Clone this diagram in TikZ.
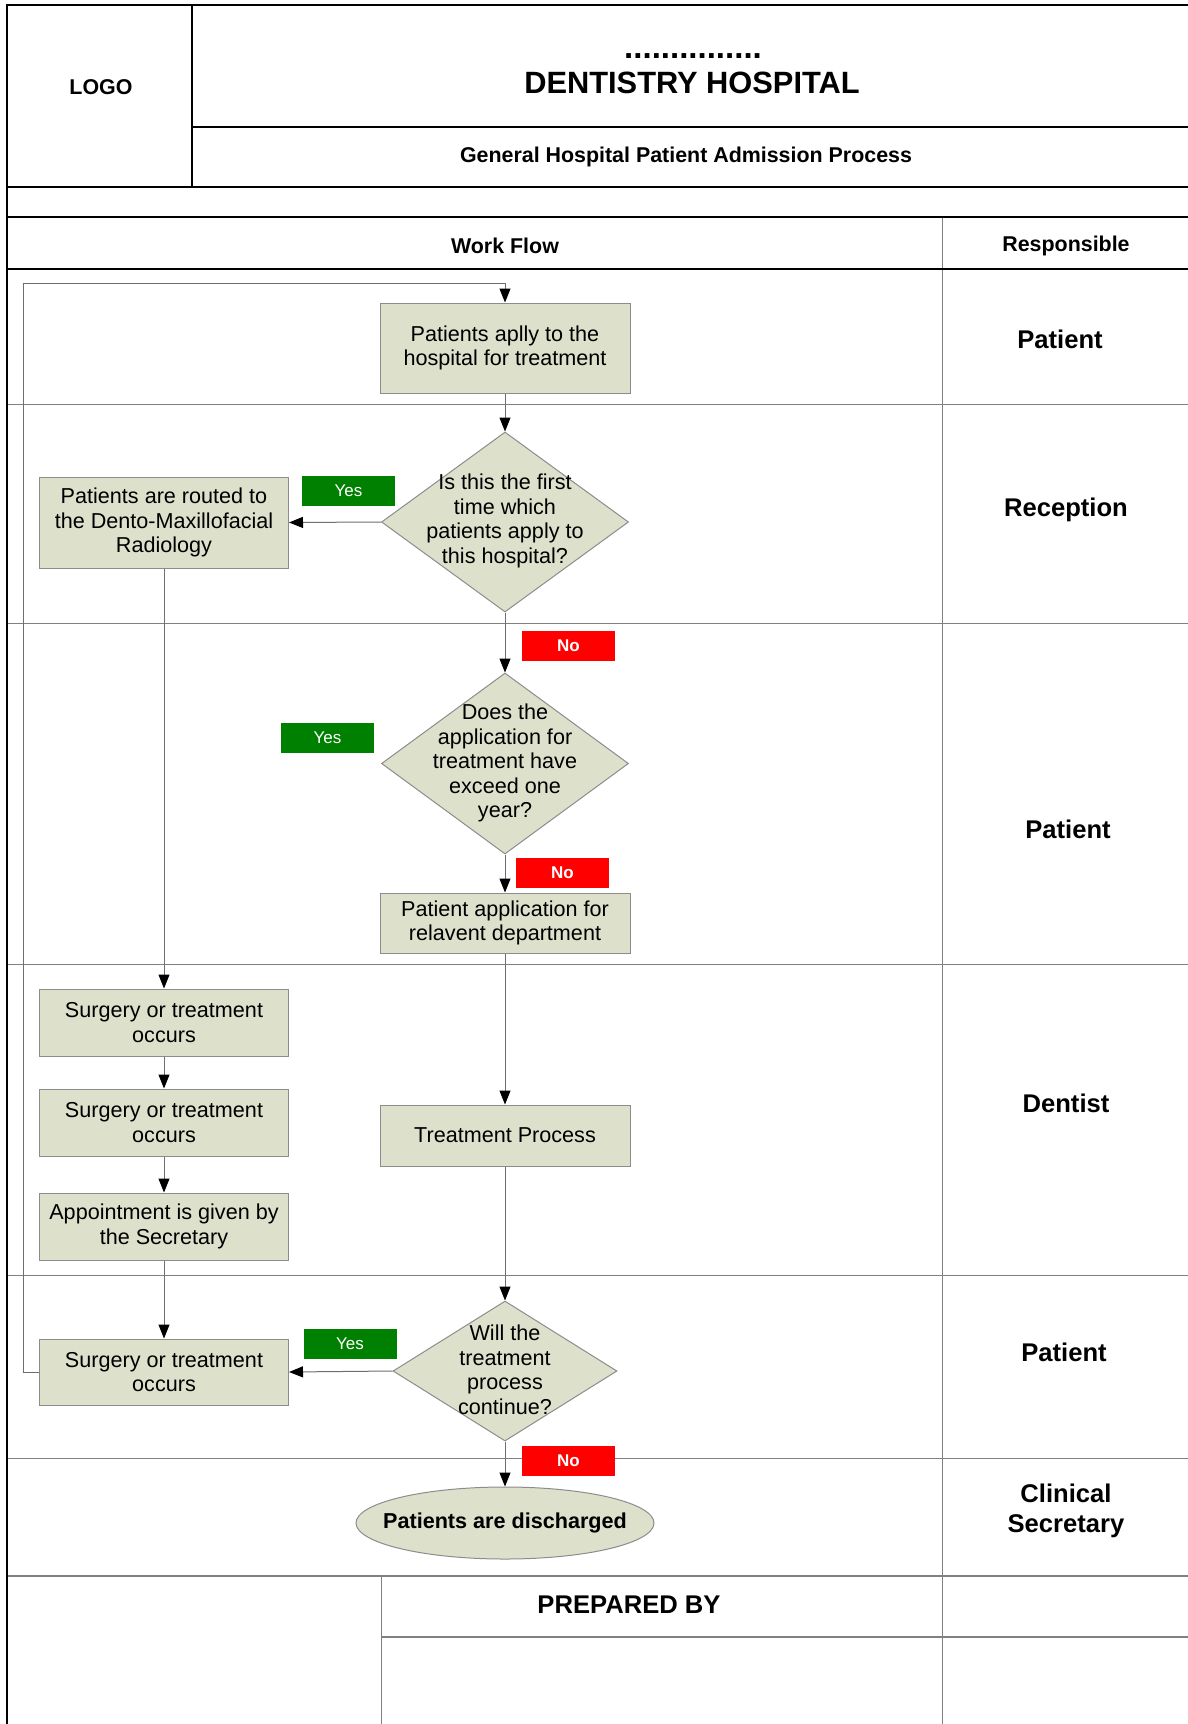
\documentclass[tikz,border=0pt]{standalone}
\usepackage{fontspec}
\setmainfont{Liberation Sans}
\usetikzlibrary{shapes.geometric,arrows.meta}
\definecolor{boxfill}{RGB}{221,225,204}
\definecolor{boxline}{RGB}{140,140,140}
\definecolor{lanegray}{RGB}{128,128,128}
\definecolor{yesgreen}{RGB}{0,128,0}
\definecolor{nored}{RGB}{255,0,0}
\definecolor{connc}{RGB}{110,110,110}
\tikzset{
  thickrule/.style={line width=2.6pt,black},
  thinrule/.style={line width=1pt,lanegray},
  procbox/.style={rectangle,draw=boxline,fill=boxfill,line width=1pt,align=center,
    inner sep=0pt,font=\fontsize{21.6}{24.5}\selectfont},
  decision/.style={diamond,draw=boxline,fill=boxfill,line width=1pt,inner sep=0pt},
  dtext/.style={align=center,inner sep=0pt,font=\fontsize{21.6}{24.5}\selectfont},
  yeslabel/.style={rectangle,fill=yesgreen,text=white,minimum width=93pt,minimum height=30pt,
    inner sep=0pt,font=\fontsize{17}{20}\selectfont},
  nolabel/.style={rectangle,fill=nored,text=white,minimum width=93pt,minimum height=30pt,
    inner sep=0pt,font=\fontsize{17}{20}\selectfont\bfseries},
  conn/.style={draw=connc,line width=1pt,-{Triangle[length=14pt,width=11pt,color=black]}},
  headtext/.style={inner sep=0pt,font=\fontsize{21.4}{25}\selectfont\bfseries},
  resptext/.style={inner sep=0pt,align=center,font=\fontsize{25.6}{30}\selectfont\bfseries},
}
\begin{document}
\begin{tikzpicture}[x=1pt,y=-1pt]
\useasboundingbox[fill=white] (0,0) rectangle (1188,1724);

% ---- thin lane lines ----
\foreach \yy in {404,623,964,1275,1458}{
  \draw[thinrule] (7,\yy) -- (1188,\yy);
}
\draw[thinrule] (942,217) -- (942,1724);
\draw[thinrule,line width=1.4pt] (7,1576) -- (1188,1576);
\draw[thinrule] (381,1576) -- (381,1724);
\draw[thinrule,line width=1.4pt] (381,1637) -- (1188,1637);

% ---- thick header rules ----
\draw[thickrule] (7,5) -- (1188,5);
\draw[thickrule] (7,4) -- (7,1724);
\draw[thickrule] (192,5) -- (192,187);
\draw[thickrule] (192,127) -- (1188,127);
\draw[thickrule] (7,187) -- (1188,187);
\draw[thickrule] (7,217) -- (1188,217);
\draw[thickrule] (7,269) -- (1188,269);

% ---- header texts ----
\node[headtext] (logo) at (101,87) {LOGO};
\node[inner sep=0pt,font=\fontsize{33}{33}\selectfont\bfseries,anchor=base] (dots) at (693,58) {...............};
\node[inner sep=0pt,font=\fontsize{30.8}{34}\selectfont\bfseries] (title) at (692,83) {DENTISTRY HOSPITAL};
\node[headtext] (subtitle) at (686,157) {General Hospital Patient Admission Process};
\node[headtext] (wf) at (505,246) {Work Flow};
\node[headtext] (resp) at (1066,246) {Responsible};

% ---- responsible column ----
\node[resptext] (r1) at (1060,339) {Patient};
\node[resptext] (r2) at (1066,510) {Reception};
\node[resptext] (r3) at (1068,829) {Patient};
\node[resptext] (r4) at (1066,1103) {Dentist};
\node[resptext] (r5) at (1064,1352) {Patient};
\node[resptext] (r6) at (1066,1511) {Clinical\\Secretary};
\node[inner sep=0pt,font=\fontsize{25.6}{30}\selectfont\bfseries] (prep) at (629,1605) {PREPARED BY};

% ---- flow nodes ----
\node[procbox,minimum width=250pt,minimum height=90pt] (b1) at (505,348) {Patients aplly to the\\hospital for treatment};
\node[decision,minimum width=247pt,minimum height=180pt] (d1) at (505,522) {};
\node[dtext] (d1t) at (505,521) {Is this the first\\time which\\patients apply to\\this hospital?};
\node[procbox,minimum width=249pt,minimum height=91pt] (b2) at (164,522.5) {Patients are routed to\\the Dento-Maxillofacial\\Radiology};
\node[yeslabel] (y1) at (348.5,491) {Yes};
\node[nolabel] (n1) at (568.5,646) {No};
\node[decision,minimum width=247pt,minimum height=181pt] (d2) at (505,763.5) {};
\node[dtext] (d2t) at (505,763) {Does the\\application for\\treatment have\\exceed one\\year?};
\node[yeslabel] (y2) at (327.5,738) {Yes};
\node[nolabel] (n2) at (562.5,873) {No};
\node[procbox,minimum width=250pt,minimum height=60pt] (b3) at (505,923) {Patient application for\\relavent department};
\node[procbox,minimum width=249pt,minimum height=67pt] (b4) at (164,1022.5) {Surgery or treatment\\occurs};
\node[procbox,minimum width=249pt,minimum height=67pt] (b5) at (164,1122.5) {Surgery or treatment\\occurs};
\node[procbox,minimum width=249pt,minimum height=67pt] (b6) at (164,1226.5) {Appointment is given by\\the Secretary};
\node[procbox,minimum width=250pt,minimum height=61pt] (tp) at (505,1135.5) {Treatment Process};
\node[decision,minimum width=224pt,minimum height=140pt] (d3) at (505,1371) {};
\node[dtext] (d3t) at (505,1370) {Will the\\treatment\\process\\continue?};
\node[procbox,minimum width=249pt,minimum height=66pt] (b7) at (164,1372) {Surgery or treatment\\occurs};
\node[yeslabel] (y3) at (350,1344) {Yes};
\node[nolabel] (n3) at (568.5,1461) {No};
\node[ellipse,draw=boxline,fill=boxfill,line width=1pt,minimum width=298pt,minimum height=72pt,
  inner sep=0pt] (el) at (505,1523) {};
\node[inner sep=0pt,font=\fontsize{21.6}{24.5}\selectfont\bfseries] (elt) at (505,1523) {Patients are discharged};

% ---- connectors ----
\coordinate (loopc) at (23,283);
\draw[conn] (b7.west) -| (loopc) -| (b1.north);
\draw[conn] (b1.south) -- (d1.north);
\draw[conn] (d1.west) -- (b2.east);
\draw[conn] (b2.south) -- (b4.north);
\draw[conn] (d1.south) -- (d2.north);
\draw[conn] (d2.south) -- (b3.north);
\draw[conn] (b3.south) -- (tp.north);
\draw[conn] (b4.south) -- (b5.north);
\draw[conn] (b5.south) -- (b6.north);
\draw[conn] (b6.south) -- (b7.north);
\draw[conn] (tp.south) -- (d3.north);
\draw[conn] (d3.west) -- (b7.east);
\draw[conn] (d3.south) -- (el.north);
\end{tikzpicture}
\end{document}
